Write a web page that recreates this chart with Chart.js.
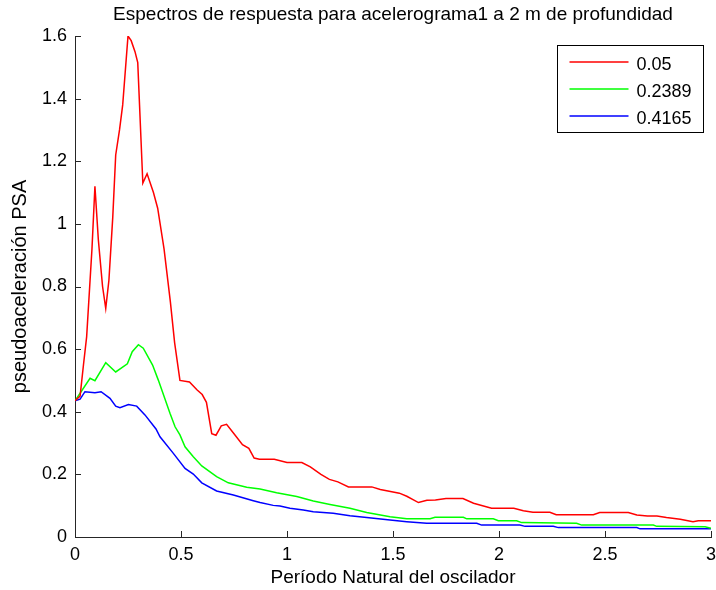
<!DOCTYPE html>
<html>
<head>
<meta charset="utf-8">
<script src="https://cdn.jsdelivr.net/npm/chart.js@4/dist/chart.umd.min.js"></script>
<style>
  body { margin: 0; background: #fff; }
</style>
</head>
<body>
<canvas id="chart" width="716" height="590"></canvas>
<script>
const chartTitle = 'Espectros de respuesta para acelerograma1 a 2 m de profundidad';
const xTitle = 'Período Natural del oscilador';
const yTitle = 'pseudoaceleración PSA';

const seriesLabels = ['0.05', '0.2389', '0.4165'];
const seriesColors = ['#ff0000', '#00ff00', '#0000ff'];

// periods (s) and PSA values, one pair per damping value
const redPeriods = [0, 0.024, 0.04, 0.055, 0.08, 0.094, 0.11, 0.13, 0.145, 0.16, 0.178, 0.192, 0.21, 0.225, 0.25, 0.265, 0.283, 0.296, 0.32, 0.34, 0.37, 0.39, 0.42, 0.45, 0.47, 0.495, 0.54, 0.575, 0.6, 0.62, 0.645, 0.665, 0.69, 0.715, 0.75, 0.79, 0.82, 0.845, 0.87, 0.94, 1.0, 1.07, 1.11, 1.16, 1.2, 1.24, 1.29, 1.4, 1.44, 1.53, 1.565, 1.62, 1.66, 1.7, 1.75, 1.83, 1.88, 1.965, 2.07, 2.115, 2.16, 2.24, 2.27, 2.445, 2.475, 2.61, 2.65, 2.7, 2.745, 2.79, 2.855, 2.915, 2.94, 3.0];
const redPSA = [0.435, 0.45, 0.55, 0.64, 0.92, 1.12, 0.95, 0.80, 0.73, 0.82, 1.02, 1.22, 1.30, 1.38, 1.60, 1.585, 1.55, 1.515, 1.13, 1.16, 1.10, 1.05, 0.92, 0.75, 0.62, 0.50, 0.495, 0.47, 0.455, 0.43, 0.33, 0.325, 0.355, 0.36, 0.33, 0.295, 0.283, 0.252, 0.248, 0.248, 0.238, 0.238, 0.224, 0.2, 0.184, 0.176, 0.16, 0.16, 0.152, 0.14, 0.13, 0.11, 0.117, 0.118, 0.123, 0.123, 0.108, 0.092, 0.092, 0.084, 0.079, 0.079, 0.071, 0.071, 0.078, 0.078, 0.07, 0.067, 0.067, 0.062, 0.057, 0.049, 0.052, 0.052];

const greenPeriods = [0, 0.071, 0.094, 0.145, 0.192, 0.247, 0.27, 0.299, 0.322, 0.366, 0.393, 0.448, 0.472, 0.495, 0.519, 0.558, 0.598, 0.668, 0.723, 0.81, 0.873, 0.951, 1.046, 1.124, 1.203, 1.297, 1.376, 1.486, 1.565, 1.675, 1.698, 1.832, 1.848, 1.973, 1.997, 2.083, 2.107, 2.366, 2.39, 2.728, 2.744, 2.972, 3.0];
const greenPSA = [0.435, 0.507, 0.499, 0.557, 0.527, 0.553, 0.592, 0.614, 0.603, 0.549, 0.501, 0.395, 0.352, 0.326, 0.288, 0.256, 0.227, 0.193, 0.173, 0.159, 0.153, 0.141, 0.129, 0.115, 0.104, 0.092, 0.078, 0.065, 0.058, 0.058, 0.063, 0.063, 0.058, 0.058, 0.052, 0.052, 0.046, 0.044, 0.038, 0.038, 0.034, 0.033, 0.028];

const bluePeriods = [0, 0.024, 0.047, 0.094, 0.123, 0.165, 0.192, 0.212, 0.252, 0.291, 0.33, 0.382, 0.401, 0.464, 0.519, 0.558, 0.598, 0.668, 0.747, 0.841, 0.873, 0.935, 0.967, 1.014, 1.077, 1.124, 1.218, 1.297, 1.376, 1.486, 1.565, 1.659, 1.895, 1.918, 2.099, 2.123, 2.256, 2.28, 2.65, 2.665, 3.0];
const bluePSA = [0.435, 0.44, 0.464, 0.461, 0.464, 0.443, 0.418, 0.413, 0.423, 0.418, 0.39, 0.345, 0.32, 0.267, 0.219, 0.201, 0.173, 0.147, 0.134, 0.116, 0.11, 0.101, 0.099, 0.092, 0.086, 0.081, 0.076, 0.068, 0.062, 0.054, 0.049, 0.044, 0.044, 0.038, 0.038, 0.034, 0.034, 0.03, 0.03, 0.026, 0.026];

const xTicks = [0, 0.5, 1, 1.5, 2, 2.5, 3];
const yTicks = [0, 0.2, 0.4, 0.6, 0.8, 1, 1.2, 1.4, 1.6];

const FONT = "'Liberation Sans', Arial, Helvetica, sans-serif";
const axisColor = '#262626';

function toPoints(xs, ys) {
  return xs.map((x, i) => ({ x: x, y: ys[i] }));
}

// title centred over the axes, like MATLAB does it
const axesTitle = {
  id: 'axesTitle',
  afterDraw(chart) {
    const { ctx, chartArea } = chart;
    ctx.save();
    ctx.font = '19px ' + FONT;
    ctx.fillStyle = '#000';
    ctx.textAlign = 'center';
    ctx.textBaseline = 'middle';
    ctx.fillText(chartTitle, (chartArea.left + chartArea.right) / 2, chartArea.top - 21);
    ctx.restore();
  }
};

// MATLAB style tick marks pointing into the axes
const insideTicks = {
  id: 'insideTicks',
  afterDraw(chart) {
    const { ctx, chartArea, scales } = chart;
    ctx.save();
    ctx.strokeStyle = axisColor;
    ctx.lineWidth = 1;
    ctx.beginPath();
    scales.x.ticks.forEach(t => {
      const px = Math.round(scales.x.getPixelForValue(t.value)) + 0.5;
      ctx.moveTo(px, chartArea.bottom);
      ctx.lineTo(px, chartArea.bottom - 6);
    });
    scales.y.ticks.forEach(t => {
      const py = Math.round(scales.y.getPixelForValue(t.value)) + 0.5;
      ctx.moveTo(chartArea.left, py);
      ctx.lineTo(chartArea.left + 6, py);
    });
    ctx.stroke();
    ctx.restore();
  }
};

// boxed legend in the upper right corner of the axes
const boxLegend = {
  id: 'boxLegend',
  afterDraw(chart) {
    const { ctx, chartArea } = chart;
    const w = 146, h = 87;
    const x0 = Math.round(chartArea.right - 8 - w) + 0.5;
    const y0 = Math.round(chartArea.top + 9) + 0.5;
    ctx.save();
    ctx.fillStyle = '#fff';
    ctx.fillRect(x0, y0, w, h);
    ctx.strokeStyle = '#000';
    ctx.lineWidth = 1;
    ctx.strokeRect(x0, y0, w, h);
    ctx.font = '18px ' + FONT;
    ctx.textBaseline = 'middle';
    chart.data.datasets.forEach((ds, i) => {
      const ly = Math.round(y0 + 16 + i * 27.3);
      ctx.beginPath();
      ctx.strokeStyle = seriesColors[i];
      ctx.lineWidth = 1.5;
      ctx.moveTo(x0 + 12, ly);
      ctx.lineTo(x0 + 71, ly);
      ctx.stroke();
      ctx.fillStyle = '#000';
      ctx.fillText(ds.label, x0 + 79, ly + 3.5);
    });
    ctx.restore();
  }
};

new Chart(document.getElementById('chart'), {
  type: 'line',
  data: {
    datasets: [
      { label: seriesLabels[0], data: toPoints(redPeriods, redPSA), borderColor: seriesColors[0] },
      { label: seriesLabels[1], data: toPoints(greenPeriods, greenPSA), borderColor: seriesColors[1] },
      { label: seriesLabels[2], data: toPoints(bluePeriods, bluePSA), borderColor: seriesColors[2] }
    ]
  },
  options: {
    responsive: false,
    animation: false,
    layout: { padding: { left: 0, right: 5, top: 36, bottom: 0 } },
    elements: {
      point: { radius: 0 },
      line: { borderWidth: 1.5, tension: 0, fill: false }
    },
    plugins: {
      legend: { display: false },
      tooltip: { enabled: false },
      title: { display: false }
    },
    scales: {
      x: {
        type: 'linear',
        min: 0,
        max: 3,
        afterBuildTicks: scale => { scale.ticks = xTicks.map(v => ({ value: v })); },
        afterFit: scale => { scale.height = 53; scale.paddingLeft = 0; scale.paddingRight = 0; },
        grid: { display: false, drawTicks: false },
        border: { display: true, color: axisColor, width: 1 },
        ticks: {
          color: '#000',
          padding: 7,
          maxRotation: 0,
          font: { family: FONT, size: 18 },
          callback: v => String(v)
        },
        title: {
          display: true,
          text: xTitle,
          color: '#000',
          font: { family: FONT, size: 19, lineHeight: 1.2 },
          padding: { top: 0, bottom: 1 }
        }
      },
      y: {
        type: 'linear',
        min: 0,
        max: 1.6,
        afterBuildTicks: scale => { scale.ticks = yTicks.map(v => ({ value: v })); },
        afterFit: scale => { scale.width = 75; scale.paddingTop = 0; scale.paddingBottom = 0; },
        grid: { display: false, drawTicks: false },
        border: { display: true, color: axisColor, width: 1 },
        ticks: {
          color: '#000',
          padding: 8,
          font: { family: FONT, size: 18 },
          callback: v => String(v)
        },
        title: {
          display: true,
          text: yTitle,
          color: '#000',
          font: { family: FONT, size: 20, lineHeight: 1.2 },
          padding: { top: 8, bottom: 0 }
        }
      }
    }
  },
  plugins: [axesTitle, insideTicks, boxLegend]
});
</script>
</body>
</html>
